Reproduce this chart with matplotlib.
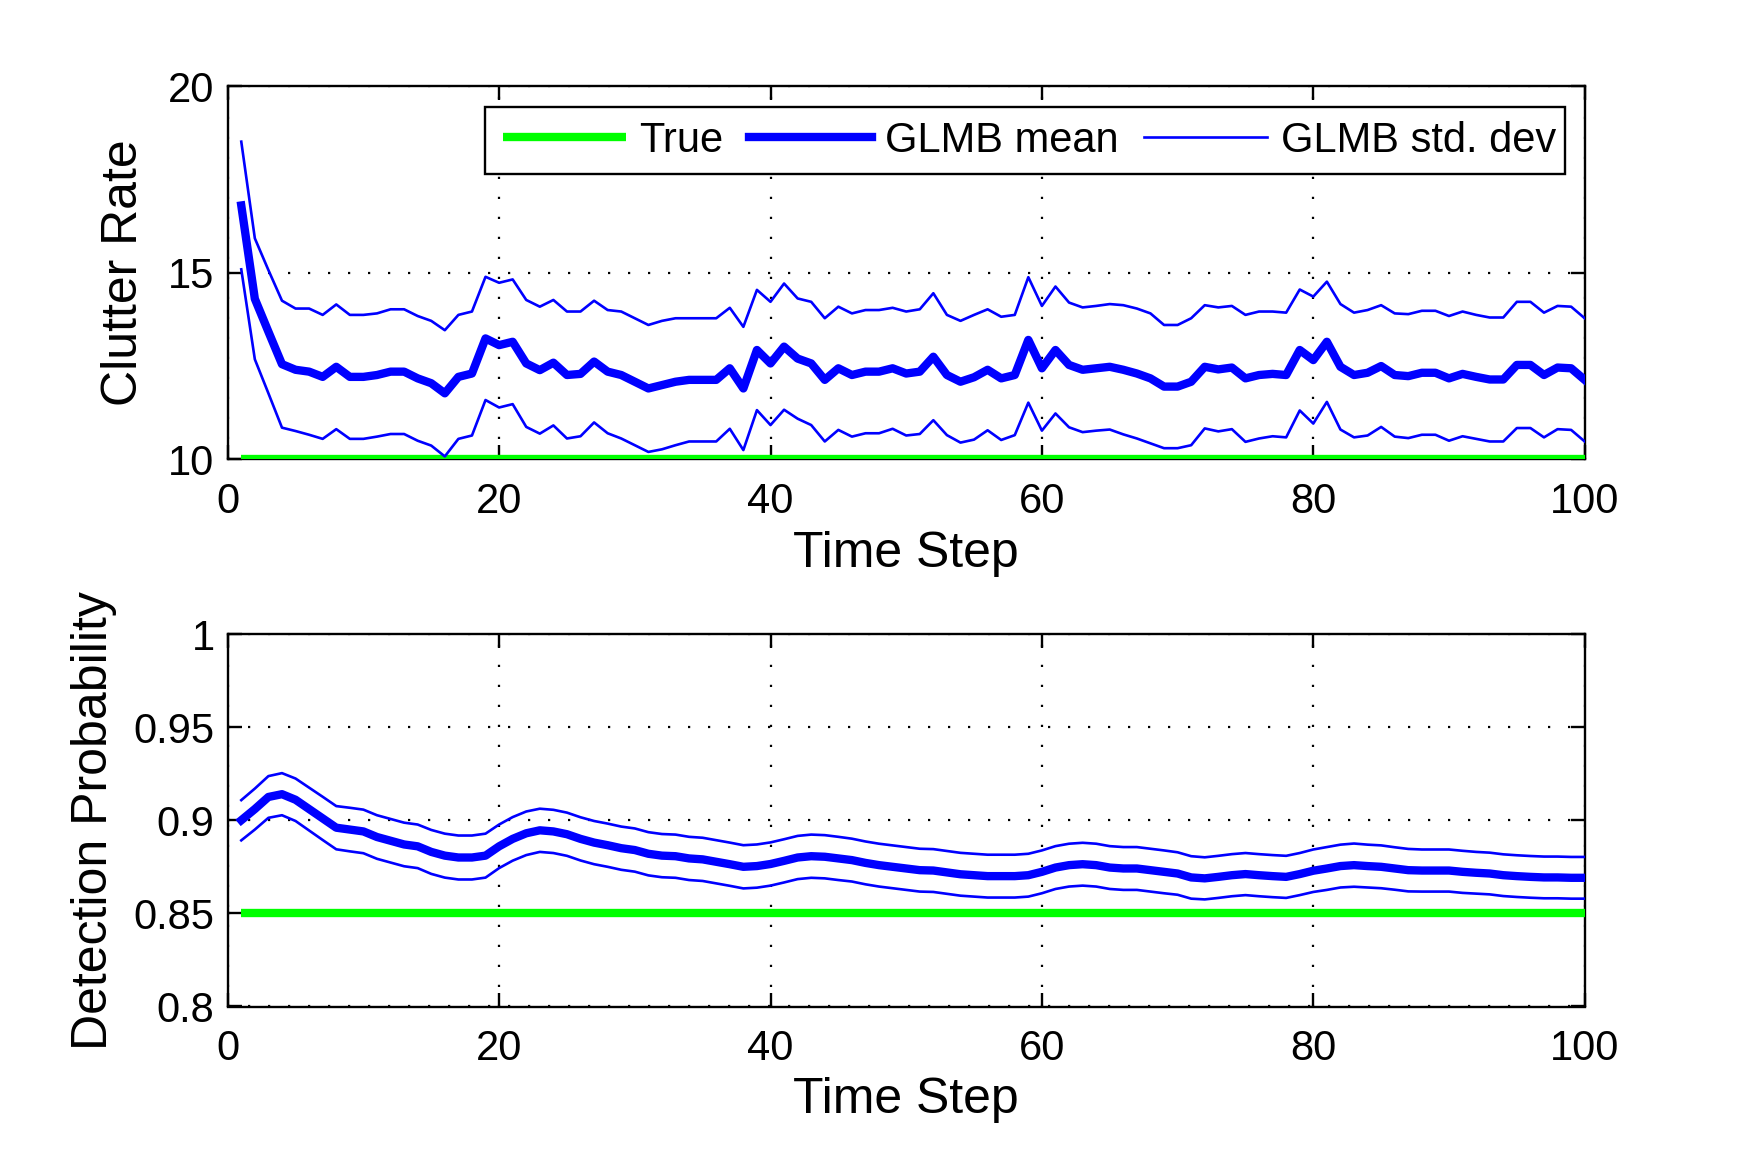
import numpy as np
import matplotlib
matplotlib.use("Agg")
import matplotlib.pyplot as plt
from matplotlib.path import Path

plt.rcParams['font.family'] = ['Liberation Sans', 'DejaVu Sans']

# ---------------- data ----------------
time_steps = list(range(1, 101))

true_clutter = [10.0] * 100
clutter_mean = [
    16.80, 14.30, 13.42, 12.55, 12.40, 12.35, 12.21, 12.48, 12.21, 12.21,
    12.26, 12.35, 12.35, 12.17, 12.04, 11.77, 12.21, 12.30, 13.24, 13.06,
    13.15, 12.57, 12.39, 12.59, 12.26, 12.29, 12.62, 12.35, 12.26, 12.08,
    11.90, 11.99, 12.08, 12.13, 12.13, 12.13, 12.44, 11.90, 12.93, 12.57,
    13.02, 12.70, 12.57, 12.13, 12.44, 12.26, 12.35, 12.35, 12.44, 12.30,
    12.35, 12.75, 12.26, 12.08, 12.20, 12.40, 12.17, 12.26, 13.20, 12.44,
    12.93, 12.53, 12.40, 12.44, 12.48, 12.40, 12.30, 12.17, 11.95, 11.95,
    12.08, 12.48, 12.41, 12.46, 12.17, 12.26, 12.29, 12.26, 12.93, 12.66,
    13.15, 12.48, 12.26, 12.32, 12.50, 12.26, 12.23, 12.32, 12.32, 12.17,
    12.29, 12.21, 12.14, 12.14, 12.53, 12.53, 12.26, 12.46, 12.44, 12.13,
]
clutter_std = [
    1.71, 1.62, 1.65, 1.70, 1.64, 1.69, 1.66, 1.67, 1.66, 1.66,
    1.65, 1.67, 1.67, 1.67, 1.67, 1.69, 1.66, 1.66, 1.65, 1.67,
    1.67, 1.70, 1.70, 1.68, 1.70, 1.67, 1.63, 1.65, 1.70, 1.70,
    1.70, 1.72, 1.70, 1.65, 1.65, 1.65, 1.62, 1.65, 1.61, 1.65,
    1.69, 1.61, 1.65, 1.65, 1.65, 1.65, 1.65, 1.65, 1.62, 1.66,
    1.67, 1.70, 1.61, 1.63, 1.67, 1.62, 1.65, 1.61, 1.68, 1.67,
    1.70, 1.67, 1.67, 1.67, 1.68, 1.73, 1.74, 1.74, 1.65, 1.65,
    1.70, 1.65, 1.66, 1.65, 1.70, 1.70, 1.67, 1.67, 1.62, 1.70,
    1.61, 1.68, 1.67, 1.68, 1.63, 1.65, 1.66, 1.66, 1.66, 1.67,
    1.67, 1.66, 1.66, 1.66, 1.69, 1.69, 1.67, 1.65, 1.65, 1.65,
]

true_pd = [0.85] * 100
pd_mean = [
    0.9000, 0.9060, 0.9125, 0.9140, 0.9110, 0.9060, 0.9010, 0.8960, 0.8950, 0.8940,
    0.8910, 0.8890, 0.8870, 0.8860, 0.8830, 0.8810, 0.8800, 0.8800, 0.8810, 0.8860,
    0.8900, 0.8930, 0.8946, 0.8940, 0.8925, 0.8900, 0.8880, 0.8866, 0.8850, 0.8840,
    0.8820, 0.8810, 0.8807, 0.8795, 0.8790, 0.8777, 0.8764, 0.8750, 0.8754, 0.8765,
    0.8782, 0.8800, 0.8807, 0.8804, 0.8795, 0.8786, 0.8771, 0.8759, 0.8750, 0.8741,
    0.8732, 0.8730, 0.8720, 0.8710, 0.8705, 0.8700, 0.8700, 0.8700, 0.8705, 0.8723,
    0.8746, 0.8759, 0.8764, 0.8759, 0.8746, 0.8741, 0.8741, 0.8732, 0.8723, 0.8714,
    0.8693, 0.8688, 0.8696, 0.8705, 0.8711, 0.8705, 0.8700, 0.8696, 0.8711, 0.8729,
    0.8741, 0.8754, 0.8759, 0.8754, 0.8750, 0.8741, 0.8732, 0.8730, 0.8730, 0.8730,
    0.8723, 0.8718, 0.8714, 0.8705, 0.8700, 0.8696, 0.8693, 0.8693, 0.8691, 0.8691,
]
pd_std = [
    0.0108, 0.0110, 0.0112, 0.0113, 0.0114, 0.0115, 0.0116, 0.0116, 0.0117, 0.0117,
    0.0117, 0.0117, 0.0117, 0.0117, 0.0118, 0.0118, 0.0118, 0.0118, 0.0118, 0.0117,
    0.0117, 0.0117, 0.0116, 0.0116, 0.0116, 0.0116, 0.0116, 0.0116, 0.0116, 0.0116,
    0.0116, 0.0116, 0.0116, 0.0116, 0.0116, 0.0116, 0.0116, 0.0116, 0.0116, 0.0116,
    0.0116, 0.0116, 0.0116, 0.0116, 0.0116, 0.0115, 0.0115, 0.0115, 0.0115, 0.0115,
    0.0115, 0.0115, 0.0115, 0.0115, 0.0115, 0.0115, 0.0115, 0.0115, 0.0115, 0.0115,
    0.0115, 0.0115, 0.0115, 0.0115, 0.0115, 0.0115, 0.0115, 0.0115, 0.0115, 0.0114,
    0.0114, 0.0113, 0.0113, 0.0113, 0.0113, 0.0113, 0.0113, 0.0113, 0.0113, 0.0114,
    0.0115, 0.0115, 0.0116, 0.0115, 0.0115, 0.0114, 0.0114, 0.0113, 0.0113, 0.0113,
    0.0113, 0.0112, 0.0112, 0.0112, 0.0112, 0.0112, 0.0112, 0.0112, 0.0112, 0.0112,
]

x_ticks = [0, 20, 40, 60, 80, 100]
clutter_ticks = [10, 15, 20]
clutter_ticklabels = ["10", "15", "20"]
pd_ticks = [0.8, 0.85, 0.9, 0.95, 1.0]
pd_ticklabels = ["0.8", "0.85", "0.9", "0.95", "1"]

legend_labels = ["True", "GLMB mean", "GLMB std. dev"]
xlabel = "Time Step"
ylabel_top = "Clutter Rate"
ylabel_bot = "Detection Probability"

# ---------------- styling ----------------
GREEN = (0.0, 1.0, 0.0)
BLUE = (0.0, 0.0, 1.0)
TICK_FS = 30
LABEL_FS = 36
LEGEND_FS = 30
SPINE_LW = 1.7
THICK_LW = 6.0
THIN_LW = 1.9
TRUE_LW = 6.0

fig = plt.figure(figsize=(17.5, 11.54), dpi=100)
W, H = 1750.0, 1154.0
ax1 = fig.add_axes([227.7 / W, 1 - 459.4 / H, (1584.7 - 227.7) / W, (459.4 - 86.0) / H])
ax2 = fig.add_axes([227.7 / W, 1 - 1006.5 / H, (1584.7 - 227.7) / W, (1006.5 - 634.0) / H])

t = np.array(time_steps)


def style_axes(ax):
    for s in ax.spines.values():
        s.set_linewidth(SPINE_LW)
        s.set_color("black")
    ax.tick_params(direction="in", length=10, width=SPINE_LW, top=True, right=True,
                   labelsize=TICK_FS, colors="black")
    ax.tick_params(axis="x", pad=16)
    ax.tick_params(axis="y", pad=9.5)
    ax.grid(True, color="black", linestyle=(0, (1, 8)), linewidth=1.6)
    ax.set_axisbelow(False)


def legend_box(x0, y0, width, height, mutation_size):
    # MATLAB-like legend frame: extra room on the left and vertically
    extra_l = 0.22 * mutation_size
    extra_v = 0.11 * mutation_size
    xl, xr = x0 - extra_l, x0 + width
    yb, yt = y0 - extra_v, y0 + height + extra_v
    return Path([(xl, yb), (xr, yb), (xr, yt), (xl, yt), (xl, yb)],
                [Path.MOVETO, Path.LINETO, Path.LINETO, Path.LINETO, Path.CLOSEPOLY])


# top panel
cm = np.array(clutter_mean)
cs = np.array(clutter_std)
h_true, = ax1.plot(t, true_clutter, color=GREEN, lw=TRUE_LW, solid_capstyle="butt", zorder=3)
h_mean, = ax1.plot(t, cm, color=BLUE, lw=THICK_LW, zorder=4)
h_std, = ax1.plot(t, cm + cs, color=BLUE, lw=THIN_LW, zorder=4)
ax1.plot(t, cm - cs, color=BLUE, lw=THIN_LW, zorder=4)
ax1.set_xlim(0, 100)
ax1.set_ylim(10, 20)
ax1.set_xticks(x_ticks)
ax1.set_yticks(clutter_ticks)
ax1.set_yticklabels(clutter_ticklabels)
style_axes(ax1)
ax1.set_xlabel(xlabel, fontsize=LABEL_FS)
ax1.set_ylabel(ylabel_top, fontsize=LABEL_FS)
ax1.xaxis.set_label_coords(0.5, -0.192)
ax1.yaxis.set_label_coords(-0.0598, 0.5)

leg = ax1.legend([h_true, h_mean, h_std], legend_labels, ncol=3, loc="upper right",
                 bbox_to_anchor=(0.9855, 0.932), borderaxespad=0.0,
                 fontsize=LEGEND_FS, frameon=True, fancybox=False, framealpha=1.0,
                 edgecolor="black", handlelength=2.95, handletextpad=0.33,
                 columnspacing=0.6, borderpad=0.22)
leg.get_frame().set_linewidth(SPINE_LW)
leg.get_frame().set_boxstyle(legend_box)
leg.set_zorder(10)

# bottom panel
pm = np.array(pd_mean)
ps = np.array(pd_std)
ax2.plot(t, true_pd, color=GREEN, lw=TRUE_LW, solid_capstyle="butt", zorder=3)
ax2.plot(t, pm, color=BLUE, lw=THICK_LW, zorder=4)
ax2.plot(t, pm + ps, color=BLUE, lw=THIN_LW, zorder=4)
ax2.plot(t, pm - ps, color=BLUE, lw=THIN_LW, zorder=4)
ax2.set_xlim(0, 100)
ax2.set_ylim(0.8, 1.0)
ax2.set_xticks(x_ticks)
ax2.set_yticks(pd_ticks)
ax2.set_yticklabels(pd_ticklabels)
style_axes(ax2)
ax2.set_xlabel(xlabel, fontsize=LABEL_FS)
ax2.set_ylabel(ylabel_bot, fontsize=LABEL_FS)
ax2.xaxis.set_label_coords(0.5, -0.189)
ax2.yaxis.set_label_coords(-0.0817, 0.5)

fig.savefig("out.png", dpi=100, facecolor="white")
